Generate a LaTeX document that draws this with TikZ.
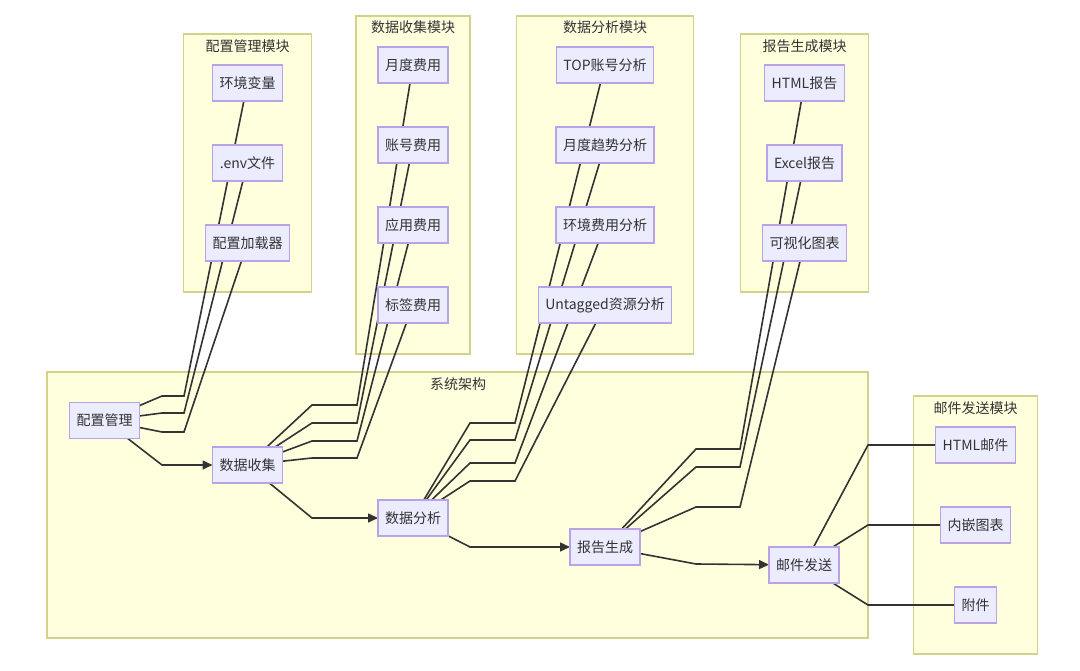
\documentclass[tikz,border=0pt]{standalone}
\usepackage{fontspec}
\setmainfont{Noto Sans CJK SC}
\usetikzlibrary{positioning, fit, arrows.meta}

\definecolor{nodefill}{HTML}{ECECFF}
\definecolor{nodeline}{HTML}{B9A3E8}
\definecolor{modfill}{HTML}{FFFFDE}
\definecolor{modline}{HTML}{D2D28A}
\definecolor{ink}{HTML}{333333}

\pgfdeclarelayer{background}
\pgfdeclarelayer{edges}
\pgfsetlayers{background,edges,main}

\begin{document}
\begin{tikzpicture}[x=1pt,y=-1pt,node distance=44pt,>={Triangle[length=10pt,width=9pt]},font=\fontsize{14}{16}\selectfont,text=ink]

	\tikzstyle{box}=[draw=nodeline,fill=nodefill,line width=1.2pt,minimum height=36pt,inner xsep=7pt,inner ysep=2pt,outer sep=0pt]
	\tikzstyle{module}=[draw=modline,fill=modfill,line width=1.2pt,inner xsep=22pt,inner ysep=31pt]
	\tikzstyle{caption}=[inner sep=0pt]
	\tikzstyle{link}=[draw=ink,line width=1.6pt]
	\tikzstyle{flow}=[link,->]

	\useasboundingbox (0,0) rectangle (1080,671);

	% main chain
	\node[box] at (104.5,420.5) (cfg) {配置管理};
	\node[box] at (247.5,465) (collect) {数据收集};
	\node[box] at (413,518) (analyze) {数据分析};
	\node[box] at (605,547) (report) {报告生成};
	\node[box] at (804,565) (mail) {邮件发送};

	% modules
	\node[box] at (247.5,83) (env) {环境变量};
	\node[box,below=of env] (dotenv) {.env文件};
	\node[box,below=of dotenv] (loader) {配置加载器};

	\node[box] at (413,65) (monthly) {月度费用};
	\node[box,below=of monthly] (account) {账号费用};
	\node[box,below=of account] (app) {应用费用};
	\node[box,below=of app] (tag) {标签费用};

	\node[box] at (605,65) (topacc) {TOP账号分析};
	\node[box,below=of topacc] (trend) {月度趋势分析};
	\node[box,below=of trend] (envcost) {环境费用分析};
	\node[box,below=of envcost] (untagged) {Untagged资源分析};

	\node[box] at (804.5,83) (htmlrep) {HTML报告};
	\node[box,below=of htmlrep] (excelrep) {Excel报告};
	\node[box,below=of excelrep] (chart) {可视化图表};

	\node[box] at (975.5,445) (htmlmail) {HTML邮件};
	\node[box,below=of htmlmail] (inline) {内嵌图表};
	\node[box,below=of inline] (attach) {附件};

	\begin{pgfonlayer}{background}
	\draw[module] (47,372) rectangle (868,638);
	\node[caption] at (458,384) (systitle) {系统架构};
	\node[module,fit=(env)(loader)] (cfgmod) {};
	\node[caption] at ([yshift=-13pt]cfgmod.north) {配置管理模块};
	\node[module,fit=(monthly)(tag)] (colmod) {};
	\node[caption] at ([yshift=-12pt]colmod.north) {数据收集模块};
	\node[module,fit=(topacc)(untagged)] (anamod) {};
	\node[caption] at ([yshift=-12pt]anamod.north) {数据分析模块};
	\node[module,fit=(htmlrep)(chart)] (repmod) {};
	\node[caption] at ([yshift=-13pt]repmod.north) {报告生成模块};
	\node[module,fit=(htmlmail)(attach)] (mailmod) {};
	\node[caption] at ([yshift=-13pt]mailmod.north) {邮件发送模块};
	\end{pgfonlayer}

	\begin{pgfonlayer}{edges}
	\draw[link] (cfg) -- (162,396) -- (184,396) -- (env);
	\draw[link] (cfg) -- (162,413) -- (184,413) -- (dotenv);
	\draw[link] (cfg) -- (162,432) -- (184,432) -- (loader);
	\draw[flow] (cfg) -- (162,465) -- (collect);

	\draw[link] (collect) -- (312,405) -- (357,405) -- (monthly);
	\draw[link] (collect) -- (312,423) -- (357,423) -- (account);
	\draw[link] (collect) -- (312,441) -- (357,441) -- (app);
	\draw[link] (collect) -- (312,458) -- (357,458) -- (tag);
	\draw[flow] (collect) -- (312,518) -- (analyze);

	\draw[link] (analyze) -- (470,423) -- (515,423) -- (topacc);
	\draw[link] (analyze) -- (470,440) -- (515,440) -- (trend);
	\draw[link] (analyze) -- (470,463) -- (515,463) -- (envcost);
	\draw[link] (analyze) -- (470,481) -- (515,481) -- (untagged);
	\draw[flow] (analyze) -- (470,547) -- (report);

	\draw[link] (report) -- (696,449) -- (740,449) -- (htmlrep);
	\draw[link] (report) -- (696,467) -- (740,467) -- (excelrep);
	\draw[link] (report) -- (696,507) -- (740,507) -- (chart);
	\draw[flow] (report) -- (696,564) -- (mail);

	\draw[link] (mail) -- (868,445) -- (htmlmail);
	\draw[link] (mail) -- (868,525) -- (inline);
	\draw[link] (mail) -- (868,605) -- (attach);
	\end{pgfonlayer}
\end{tikzpicture}
\end{document}
